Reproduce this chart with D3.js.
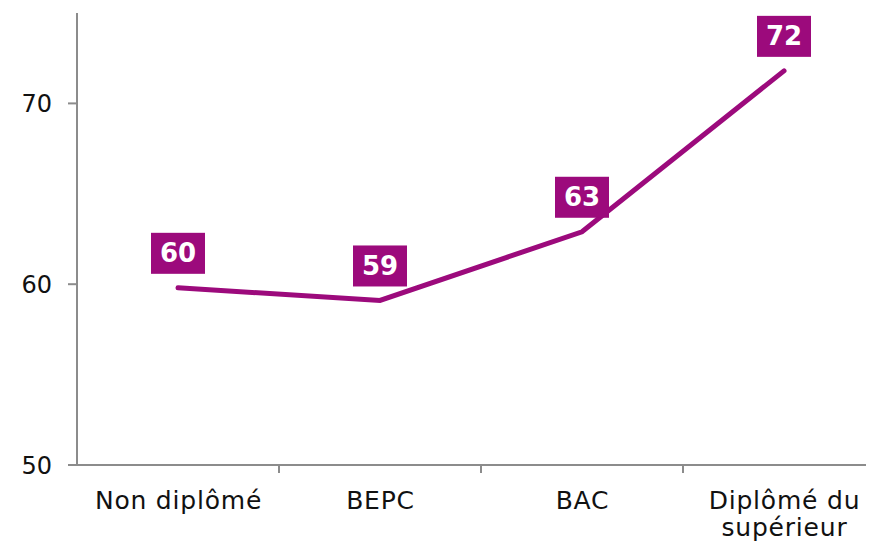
<!DOCTYPE html>
<html>
<head>
<meta charset="utf-8">
<script src="https://cdn.jsdelivr.net/npm/d3@7"></script>
<style>
  body { margin: 0; background: #fff; }
  svg text { font-family: 'DejaVu Sans'; }
</style>
</head>
<body>
<svg id="chart" width="869" height="547"></svg>
<script>
// Données
const CATEGORIES = [['Non diplômé'], ['BEPC'], ['BAC'], ['Diplômé du', 'supérieur']];
const VALUES = [59.8, 59.1, 62.9, 71.8];
const Y_TICKS = [50, 60, 70];

const PURPLE = '#9c0a7c';
const AXIS = '#8c8c8c';
const FONT = 'DejaVu Sans';

const svg = d3.select('#chart');

const x = d3.scaleBand().domain(d3.range(CATEGORIES.length)).range([77, 885]).padding(0);
const y = d3.scaleLinear().domain([50, 75]).range([465, 13]);

// ── Axe Y ──────────────────────────────────────────────────────
const gy = svg.append('g').attr('transform', 'translate(77,0)');
gy.append('line').attr('y1', y(75)).attr('y2', y(50)).attr('stroke', AXIS).attr('stroke-width', 2);
Y_TICKS.forEach(t => {
  gy.append('line').attr('x1', -9).attr('x2', 0).attr('y1', y(t)).attr('y2', y(t))
    .attr('stroke', AXIS).attr('stroke-width', 2);
  gy.append('text').attr('x', -25).attr('y', y(t)).attr('dy', '0.36em')
    .attr('font-family', FONT)
    .attr('text-anchor', 'end').attr('font-size', 24).attr('fill', '#111').text(t);
});

// ── Axe X ──────────────────────────────────────────────────────
const gx = svg.append('g').attr('transform', `translate(0,${y(50)})`);
gx.append('line').attr('x1', 77).attr('x2', 866).attr('stroke', AXIS).attr('stroke-width', 2);
d3.range(1, CATEGORIES.length).forEach(i => {
  gx.append('line').attr('x1', x(i)).attr('x2', x(i)).attr('y1', 0).attr('y2', 8)
    .attr('stroke', AXIS).attr('stroke-width', 2);
});
CATEGORIES.forEach((lines, i) => {
  const t = gx.append('text').attr('text-anchor', 'middle').attr('font-size', 25)
    .attr('letter-spacing', 0.8)
    .attr('font-family', FONT).attr('fill', '#111');
  lines.forEach((ln, j) => {
    t.append('tspan').attr('x', x(i) + x.bandwidth() / 2 + 0.5).attr('y', 44 + j * 27).text(ln);
  });
});

// ── Ligne ──────────────────────────────────────────────────────
const line = d3.line()
  .x((d, i) => x(i) + x.bandwidth() / 2)
  .y(d => y(d));

svg.append('path').datum(VALUES)
  .attr('d', line)
  .attr('fill', 'none')
  .attr('stroke', PURPLE)
  .attr('stroke-width', 5)
  .attr('stroke-linecap', 'round')
  .attr('stroke-linejoin', 'miter');

// ── Étiquettes ─────────────────────────────────────────────────
const lab = svg.append('g').selectAll('g').data(VALUES).join('g')
  .attr('transform', (d, i) => `translate(${x(i) + x.bandwidth() / 2},${y(d) - 35})`);
lab.append('rect').attr('x', -27).attr('y', -20).attr('width', 54).attr('height', 41).attr('fill', PURPLE);
lab.append('text').attr('text-anchor', 'middle').attr('dy', '0.36em')
  .attr('font-family', FONT)
  .attr('font-size', 26).attr('font-weight', 'bold').attr('fill', '#fff')
  .text(d => Math.round(d));
</script>
</body>
</html>
